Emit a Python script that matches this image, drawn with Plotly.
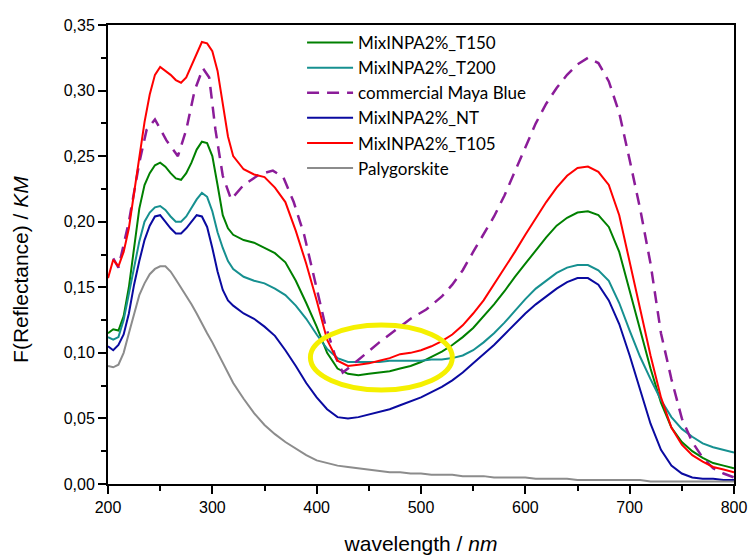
import plotly.graph_objects as go

# Wavelength grid (nm) shared by the measured spectra
wavelength = [200, 205, 210, 215, 220, 225, 230, 235, 240, 245, 250, 255, 260, 265, 270,
              275, 280, 285, 290, 295, 300, 305, 310, 315, 320,
              330, 340, 350, 360, 370, 380, 390, 400, 410, 420, 430, 440, 450, 460, 470,
              480, 490, 500, 510, 520, 530, 540, 550, 560, 570, 580, 590, 600, 610, 620,
              630, 640, 650, 660, 670, 680, 690, 700, 710, 720, 730, 740, 750, 760, 770,
              780, 790, 800]

t150 = [0.115, 0.118, 0.117, 0.128, 0.150, 0.180, 0.210, 0.228, 0.237, 0.243, 0.245, 0.242,
        0.237, 0.233, 0.232, 0.237, 0.245, 0.255, 0.261, 0.260, 0.250, 0.228, 0.205, 0.195,
        0.190,
        0.186, 0.184, 0.180, 0.176, 0.169, 0.155, 0.138, 0.120, 0.100, 0.088, 0.084, 0.083,
        0.084, 0.085, 0.086, 0.088, 0.090, 0.093, 0.097, 0.101, 0.106, 0.112, 0.119, 0.128,
        0.137, 0.147, 0.158, 0.168, 0.178, 0.188, 0.197, 0.203, 0.207, 0.208, 0.205, 0.196,
        0.177, 0.148, 0.117, 0.088, 0.062, 0.043, 0.032, 0.025, 0.020, 0.016, 0.014, 0.012]

t200 = [0.112, 0.110, 0.112, 0.125, 0.145, 0.165, 0.185, 0.200, 0.207, 0.211, 0.212, 0.209,
        0.204, 0.200, 0.200, 0.204, 0.211, 0.217, 0.222, 0.219, 0.208, 0.192, 0.180, 0.170,
        0.164,
        0.158, 0.155, 0.153, 0.149, 0.144, 0.136, 0.126, 0.114, 0.103, 0.096, 0.093, 0.093,
        0.093, 0.093, 0.094, 0.094, 0.094, 0.094, 0.095, 0.095, 0.096, 0.098, 0.102, 0.108,
        0.115, 0.123, 0.132, 0.141, 0.149, 0.155, 0.161, 0.165, 0.167, 0.167, 0.163, 0.155,
        0.138, 0.117, 0.097, 0.080, 0.064, 0.051, 0.042, 0.036, 0.031, 0.028, 0.026, 0.024]

nt = [0.105, 0.102, 0.106, 0.114, 0.130, 0.152, 0.170, 0.186, 0.197, 0.204, 0.205, 0.200,
      0.195, 0.191, 0.191, 0.195, 0.200, 0.205, 0.204, 0.196, 0.180, 0.162, 0.148, 0.140,
      0.136,
      0.130, 0.126, 0.120, 0.113, 0.102, 0.090, 0.077, 0.066, 0.057, 0.051, 0.050, 0.051,
      0.053, 0.055, 0.057, 0.060, 0.063, 0.066, 0.070, 0.074, 0.079, 0.085, 0.092, 0.099,
      0.106, 0.114, 0.122, 0.130, 0.137, 0.143, 0.149, 0.154, 0.157, 0.157, 0.152, 0.140,
      0.122, 0.098, 0.072, 0.046, 0.026, 0.014, 0.008, 0.005, 0.004, 0.004, 0.003, 0.003]

t105 = [0.157, 0.171, 0.166, 0.177, 0.195, 0.222, 0.252, 0.276, 0.297, 0.312, 0.318, 0.315,
        0.312, 0.308, 0.306, 0.310, 0.319, 0.328, 0.337, 0.336, 0.330, 0.315, 0.290, 0.265,
        0.250,
        0.240, 0.236, 0.234, 0.226, 0.215, 0.193, 0.168, 0.140, 0.110, 0.094, 0.090, 0.091,
        0.092, 0.094, 0.096, 0.099, 0.100, 0.102, 0.105, 0.109, 0.114, 0.121, 0.130, 0.140,
        0.152, 0.164, 0.177, 0.190, 0.203, 0.215, 0.226, 0.235, 0.241, 0.242, 0.238, 0.228,
        0.205, 0.170, 0.133, 0.098, 0.066, 0.043, 0.030, 0.022, 0.017, 0.013, 0.011, 0.009]

palygorskite = [0.090, 0.089, 0.091, 0.100, 0.115, 0.130, 0.144, 0.153, 0.160, 0.164, 0.166,
                0.166, 0.162, 0.156, 0.150, 0.143, 0.137, 0.130, 0.122, 0.115, 0.108, 0.100,
                0.092, 0.084, 0.077,
                0.065, 0.054, 0.045, 0.038, 0.032, 0.027, 0.022, 0.018, 0.016, 0.014, 0.013,
                0.012, 0.011, 0.010, 0.009, 0.009, 0.008, 0.008, 0.007, 0.007, 0.007, 0.006,
                0.006, 0.006, 0.005, 0.005, 0.005, 0.005, 0.004, 0.004, 0.004, 0.004, 0.003,
                0.003, 0.003, 0.003, 0.003, 0.003, 0.003, 0.002, 0.002, 0.002, 0.002, 0.002,
                0.002, 0.002, 0.002, 0.002]

# Commercial Maya Blue reference spectrum (coarser sampling)
maya_wavelength = [205, 210, 220, 230, 237, 245, 256, 267, 275, 283, 291, 297, 303, 310, 318,
                   330, 345, 358, 368, 378, 388, 398, 408, 418, 425, 433, 445, 460, 475, 490,
                   505, 520, 530, 540, 550, 560, 570, 580, 590, 600, 610, 620, 630, 640, 650,
                   660, 670, 680, 690, 700, 710, 720, 730, 740, 750, 760, 770, 780, 790, 800]
maya_blue = [0.172, 0.165, 0.200, 0.245, 0.270, 0.278, 0.262, 0.250, 0.270, 0.300, 0.317,
             0.310, 0.270, 0.235, 0.217, 0.228, 0.236, 0.239, 0.234, 0.215, 0.190, 0.155,
             0.122, 0.097, 0.085, 0.090, 0.098, 0.108, 0.117, 0.126, 0.133, 0.143, 0.152,
             0.163, 0.177, 0.190, 0.204, 0.220, 0.238, 0.256, 0.275, 0.290, 0.302, 0.312,
             0.320, 0.325, 0.321, 0.307, 0.283, 0.247, 0.210, 0.168, 0.115, 0.080, 0.050,
             0.032, 0.020, 0.012, 0.008, 0.005]

# Highlighted region around the 400-530 nm minimum
highlight_x = [394, 530]
highlight_y = [0.0717, 0.1212]

AXIS_FONT = "Liberation Sans"

fig = go.Figure()

for name, vals, col in [
    ("MixINPA2%_T150", t150, "#008000"),
    ("MixINPA2%_T200", t200, "#169090"),
]:
    fig.add_trace(go.Scatter(x=wavelength, y=vals, mode="lines", name=name,
                             legendgroup=name, line=dict(color=col, width=2)))

fig.add_trace(go.Scatter(x=maya_wavelength, y=maya_blue, mode="lines",
                         name="commercial Maya Blue", legendgroup="maya",
                         line=dict(color="#8B1C99", width=2.5, dash="12px,8px")))

for name, vals, col in [
    ("MixINPA2%_NT", nt, "#0A0AA0"),
    ("MixINPA2%_T105", t105, "#FF0000"),
    ("Palygorskite", palygorskite, "#8C8C8C"),
]:
    fig.add_trace(go.Scatter(x=wavelength, y=vals, mode="lines", name=name,
                             legendgroup=name, line=dict(color=col, width=2)))

fig.add_shape(type="circle", xref="x", yref="y",
              x0=highlight_x[0], x1=highlight_x[1], y0=highlight_y[0], y1=highlight_y[1],
              line=dict(color="#F5F000", width=5), layer="above")

# Vertical y-axis title placed as a paper annotation
fig.add_annotation(text="F(Reflectance) / <i>KM</i>", xref="paper", yref="paper",
                   x=-0.141, y=0.468, xanchor="center", yanchor="middle",
                   textangle=-90, showarrow=False,
                   font=dict(family=AXIS_FONT, size=21, color="black"))

axis_common = dict(showline=True, linecolor="black", linewidth=2, mirror=True,
                   ticks="outside", tickcolor="black", tickwidth=2, ticklen=8,
                   showgrid=False, zeroline=False, automargin=False,
                   tickfont=dict(family=AXIS_FONT, size=16, color="black"))

fig.update_layout(
    width=751, height=555,
    margin=dict(l=108, r=17, t=25, b=71),
    paper_bgcolor="white", plot_bgcolor="white",
    font=dict(family=AXIS_FONT, color="black"),
    separators=",.",
    showlegend=True,
    legend=dict(x=0.31, y=1.0, xanchor="left", yanchor="top",
                bgcolor="rgba(0,0,0,0)", borderwidth=0, tracegroupgap=0,
                itemwidth=46,
                font=dict(family="Lato", size=17, color="black")),
    xaxis=dict(range=[200, 800], dtick=100, tick0=200,
               minor=dict(dtick=50, ticks="outside", ticklen=5, tickwidth=2,
                          tickcolor="black"),
               title=dict(text="wavelength / <i>nm</i>", standoff=24,
                          font=dict(family=AXIS_FONT, size=21, color="black")),
               **axis_common),
    yaxis=dict(range=[0, 0.35], dtick=0.05, tick0=0, tickformat=".2f",
               minor=dict(dtick=0.025, ticks="outside", ticklen=5, tickwidth=2,
                          tickcolor="black"),
               **axis_common),
)

fig.write_html("out.html")
